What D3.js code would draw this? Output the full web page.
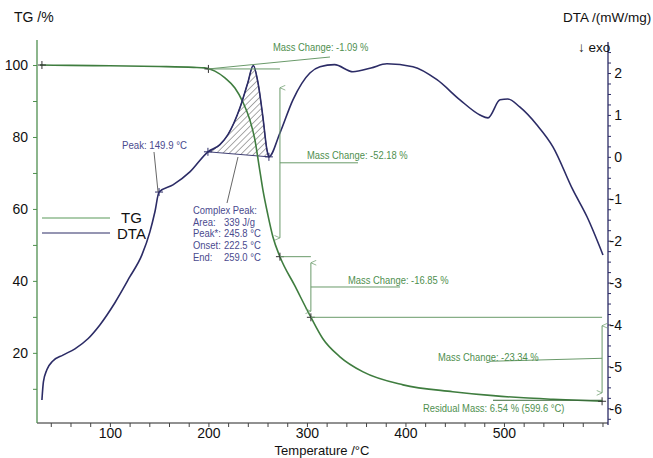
<!DOCTYPE html>
<html><head>
<meta charset="utf-8">
<script src="https://cdnjs.cloudflare.com/ajax/libs/d3/7.8.5/d3.min.js"></script>
<style>
  body { margin: 0; background: #fff; }
  svg text { font-family: Arial, "Liberation Sans", sans-serif; }
  .tick text { font-size: 14px; fill: #111; }
</style>
</head>
<body>
<script>
// TG curve (temperature °C, mass %)
var tgTemp = [29, 60, 100, 150, 185, 196, 206.6, 216.8, 226.9, 235, 242.1, 247.2, 251.3, 255.3, 260.4, 265.5, 272.6, 287.8, 304, 316, 333.5, 357, 397.5, 448, 489, 520, 550, 600];
var tgMass = [100, 99.9, 99.8, 99.6, 99.35, 99.2, 98.3, 96.4, 93.6, 89.7, 84.7, 79.2, 72.2, 65.3, 58.3, 52.2, 46.7, 38.6, 29.9, 24, 18.9, 14.7, 11.1, 9.2, 8.1, 7.5, 7.1, 6.54];

// DTA curve (temperature °C, mW/mg)
var dtaTemp = [31, 32.5, 36, 42.1, 52.3, 64.5, 77.7, 89.8, 105.1, 120.3, 132.5, 140.6, 145.7, 149.9, 164, 181.2, 199.5, 211.7, 219.8, 232, 240, 245.5, 250.3, 255.3, 259.4, 261.4, 272.6, 285.8, 303, 313.2, 328, 346.7, 365, 381.2, 407.6, 432, 455.3, 475.6, 483.8, 496, 504, 516, 533.5, 549.7, 570, 584.3, 600.5];
var dtaVal = [-5.80, -5.37, -5.08, -4.87, -4.73, -4.58, -4.34, -4.01, -3.48, -2.86, -2.34, -1.79, -1.31, -0.84, -0.67, -0.36, 0.12, 0.29, 0.53, 1.17, 1.77, 2.18, 1.77, 0.95, 0.17, 0.0, 0.57, 1.36, 2.0, 2.15, 2.2, 2.03, 2.12, 2.22, 2.15, 1.84, 1.36, 1.0, 0.93, 1.36, 1.38, 1.19, 0.76, 0.24, -0.79, -1.43, -2.34];

// mass steps
var stepTemp = [200, 272.6, 304, 599.6];
var stepMass = [98.91, 46.73, 29.88, 6.54];
var stepLabels = ["Mass Change: -1.09 %", "Mass Change: -52.18 %", "Mass Change: -16.85 %", "Mass Change: -23.34 %"];
var residualLabel = "Residual Mass: 6.54 % (599.6 °C)";

// DTA evaluation
var peakTemp = 149.9;
var complexStart = 199.5, complexEnd = 261.4;
var complexLabels = ["Complex Peak:", "Area:", "Peak*:", "Onset:", "End:"];
var complexValues = ["", "339 J/g", "245.8 °C", "222.5 °C", "259.0 °C"];

var xTicks = [100, 200, 300, 400, 500];
var tgTicks = [20, 40, 60, 80, 100];
var dtaTicks = [-6, -5, -4, -3, -2, -1, 0, 1, 2];

var W = 653, H = 458;
var green = "#3f7d3f", textGreen = "#4f8f4f", navy = "#2c2c66", textBlue = "#4a4a8e";

var svg = d3.select("body").append("svg").attr("width", W).attr("height", H);

var x = d3.scaleLinear().domain([26, 605.6]).range([37, 608]);
var yTG = d3.scaleLinear().domain([0.5, 106.4]).range([423, 42]);
var yDTA = d3.scaleLinear().domain([-6.35, 2.74]).range([423, 42]);

var tg = tgTemp.map(function(t, i) { return [t, tgMass[i]]; });
var dta = dtaTemp.map(function(t, i) { return [t, dtaVal[i]]; });

function dtaAt(t) {
  var i = d3.bisector(function(d) { return d[0]; }).left(dta, t);
  if (i <= 0) return dta[0][1];
  var a = dta[i - 1], b = dta[i];
  return a[1] + (b[1] - a[1]) * (t - a[0]) / (b[0] - a[0]);
}

// hatch pattern
var defs = svg.append("defs");
var pat = defs.append("pattern").attr("id", "hatch").attr("patternUnits", "userSpaceOnUse")
  .attr("width", 4.5).attr("height", 4.5).attr("patternTransform", "rotate(45)");
pat.append("line").attr("x1", 0).attr("y1", 0).attr("x2", 0).attr("y2", 4.5)
  .attr("stroke", "#444").attr("stroke-width", 0.9);

["arrUp", "arrDown"].forEach(function(id) {
  defs.append("marker").attr("id", id).attr("viewBox", "0 0 10 10").attr("refX", 5).attr("refY", 0)
    .attr("markerWidth", 6).attr("markerHeight", 6).attr("orient", "auto-start-reverse")
    .attr("markerUnits", "userSpaceOnUse")
    .append("path").attr("d", "M1,9L5,0L9,9").attr("fill", "none").attr("stroke", "#6a9a6a").attr("stroke-width", 1.2);
});

// axes
var gx = svg.append("g").attr("transform", "translate(0,423)");
gx.call(d3.axisBottom(x).tickValues(d3.range(40, 601, 20)).tickSize(4).tickFormat(""));
gx.call(function(g) {
  g.selectAll(".tick").filter(function(d) { return xTicks.indexOf(d) >= 0; })
    .append("text").attr("y", 5.5).attr("dy", "0.71em").attr("text-anchor", "middle")
    .attr("fill", "#111").style("font-size", "14px").text(function(d) { return d; });
});
gx.select(".domain").attr("stroke", "#222").attr("d", "M37,0H608");
gx.selectAll(".tick line").attr("stroke", "#444");

var gl = svg.append("g").attr("transform", "translate(37,0)");
gl.call(d3.axisLeft(yTG).tickValues(d3.range(10, 101, 10)).tickSize(4).tickFormat(""));
gl.selectAll(".tick").filter(function(d) { return tgTicks.indexOf(d) >= 0; })
  .append("text").attr("x", -9).attr("dy", "0.35em").attr("text-anchor", "end")
  .attr("fill", "#111").style("font-size", "14px").text(function(d) { return d; });
gl.select(".domain").attr("stroke", "#4f8f4f").attr("stroke-width", 1.3).attr("d", "M0,40V423");
gl.selectAll(".tick line").attr("stroke", "#4f8f4f");

var gr = svg.append("g").attr("transform", "translate(608,0)");
gr.call(d3.axisRight(yDTA).tickValues(d3.range(-6.25, 2.6, 0.25)).tickSize(3).tickFormat(""));
gr.selectAll(".tick").filter(function(d) { return dtaTicks.indexOf(Math.round(d * 100) / 100) >= 0; })
  .append("text").attr("x", 14).attr("dy", "0.35em").attr("text-anchor", "end")
  .attr("fill", "#111").style("font-size", "14px").text(function(d) { return Math.round(d); });
gr.select(".domain").attr("stroke", navy).attr("stroke-width", 1.3).attr("d", "M0,42V425");
gr.selectAll(".tick line").attr("stroke", navy);

// titles
svg.append("text").attr("x", 14).attr("y", 22).style("font-size", "14px").attr("fill", "#111").text("TG /%");
svg.append("text").attr("x", 563).attr("y", 22).style("font-size", "13.5px").attr("fill", "#111").text("DTA /(mW/mg)");
svg.append("text").attr("x", 578).attr("y", 52).style("font-size", "13.5px").attr("fill", "#111").text("\u2193 exo");
svg.append("text").attr("x", 322).attr("y", 455).attr("text-anchor", "middle").style("font-size", "13px")
  .attr("fill", "#111").text("Temperature /\u00b0C");

// legend
svg.append("line").attr("x1", 42).attr("x2", 110).attr("y1", 218).attr("y2", 218).attr("stroke", "#5a9a5a").attr("stroke-width", 1.2);
svg.append("line").attr("x1", 42).attr("x2", 110).attr("y1", 233).attr("y2", 233).attr("stroke", navy).attr("stroke-width", 1.2);
svg.append("text").attr("x", 121).attr("y", 223).style("font-size", "15px").attr("fill", "#111").text("TG");
svg.append("text").attr("x", 117).attr("y", 239).style("font-size", "15px").attr("fill", "#111").text("DTA");

// hatched complex peak
var dtaLine = d3.line().x(function(d) { return x(d[0]); }).y(function(d) { return yDTA(d[1]); }).curve(d3.curveMonotoneX);
var area = dta.filter(function(d) { return d[0] >= complexStart && d[0] <= complexEnd; });
svg.append("path").attr("d", dtaLine(area) + "Z").attr("fill", "url(#hatch)")
  .attr("stroke", navy).attr("stroke-width", 0.9);

// curves
var tgLine = d3.line().x(function(d) { return x(d[0]); }).y(function(d) { return yTG(d[1]); }).curve(d3.curveMonotoneX);
svg.append("path").attr("d", tgLine(tg)).attr("fill", "none").attr("stroke", green).attr("stroke-width", 1.6);
svg.append("path").attr("d", dtaLine(dta)).attr("fill", "none").attr("stroke", navy).attr("stroke-width", 1.6);

function cross(px, py, col) {
  svg.append("path").attr("d", "M" + (px - 4) + "," + py + "H" + (px + 4) + "M" + px + "," + (py - 4) + "V" + (py + 4))
    .attr("stroke", col).attr("stroke-width", 1);
}

function label(px, py, txt, col, size, sx) {
  svg.append("text").attr("transform", "translate(" + px + "," + py + ") scale(" + sx + ",1)")
    .style("font-size", size + "px").attr("fill", col).text(txt);
}

var ann = "#6a9a6a";
function seg(x1, y1, x2, y2) {
  return svg.append("line").attr("x1", x1).attr("y1", y1).attr("x2", x2).attr("y2", y2)
    .attr("stroke", ann).attr("stroke-width", 1);
}

// TG step annotations
cross(x(31), yTG(100), "#333");
stepTemp.forEach(function(t, i) {
  cross(x(t), yTG(stepMass[i]), "#333");
});
// step 1
seg(x(stepTemp[0]), yTG(stepMass[0]), x(stepTemp[1]), yTG(stepMass[0]));
seg(x(stepTemp[0]), yTG(stepMass[0]), 330, 57);
label(273, 51, stepLabels[0], textGreen, 10.8, 0.87);
// vertical arrows
[1, 2, 3].forEach(function(i) {
  var ax = x(stepTemp[i]), ya = yTG(stepMass[i - 1]), yb = yTG(stepMass[i]);
  var ins = (yb - ya) * 0.1;
  seg(ax, ya + ins, ax, yb - ins).attr("marker-start", "url(#arrUp)").attr("marker-end", "url(#arrDown)");
  if (i < 3) seg(ax, yb, x(stepTemp[i + 1]), yb);
});
var m1 = (yTG(stepMass[0]) + yTG(stepMass[1])) / 2;
seg(x(stepTemp[1]), m1, 358, m1);
label(307, m1 - 4, stepLabels[1], textGreen, 10.8, 0.87);
var m2 = (yTG(stepMass[1]) + yTG(stepMass[2])) / 2;
seg(x(stepTemp[2]), m2, 400, m2);
label(348, m2 - 3, stepLabels[2], textGreen, 10.8, 0.87);
var m3 = (yTG(stepMass[2]) + yTG(stepMass[3])) / 2;
seg(x(stepTemp[3]), m3 - 1, 490, m3 + 2);
label(438, m3 + 2, stepLabels[3], textGreen, 10.8, 0.87);
seg(493, yTG(stepMass[3]) - 1, x(stepTemp[3]), yTG(stepMass[3]) - 1).attr("stroke", "#3a6a3a");
label(423, 412, residualLabel, textGreen, 10.8, 0.87);

// DTA peak annotations
cross(x(peakTemp), yDTA(dtaAt(peakTemp)), navy);
cross(x(complexStart), yDTA(dtaAt(complexStart)), navy);
cross(x(complexEnd), yDTA(dtaAt(complexEnd)), navy);
svg.append("line").attr("x1", 154).attr("y1", 152).attr("x2", x(peakTemp) - 1).attr("y2", yDTA(dtaAt(peakTemp)))
  .attr("stroke", "#555").attr("stroke-width", 0.9);
label(122, 149, "Peak: " + peakTemp + " \u00b0C", textBlue, 10.5, 0.92);
svg.append("line").attr("x1", 227).attr("y1", 203).attr("x2", 238).attr("y2", 157)
  .attr("stroke", "#555").attr("stroke-width", 0.9);
complexLabels.forEach(function(s, i) {
  var by = 214 + i * 11.7;
  label(193, by, s, textBlue, 10.5, 0.9);
  if (complexValues[i]) label(224, by, complexValues[i], textBlue, 10.5, 0.9);
});
</script>
</body></html>
